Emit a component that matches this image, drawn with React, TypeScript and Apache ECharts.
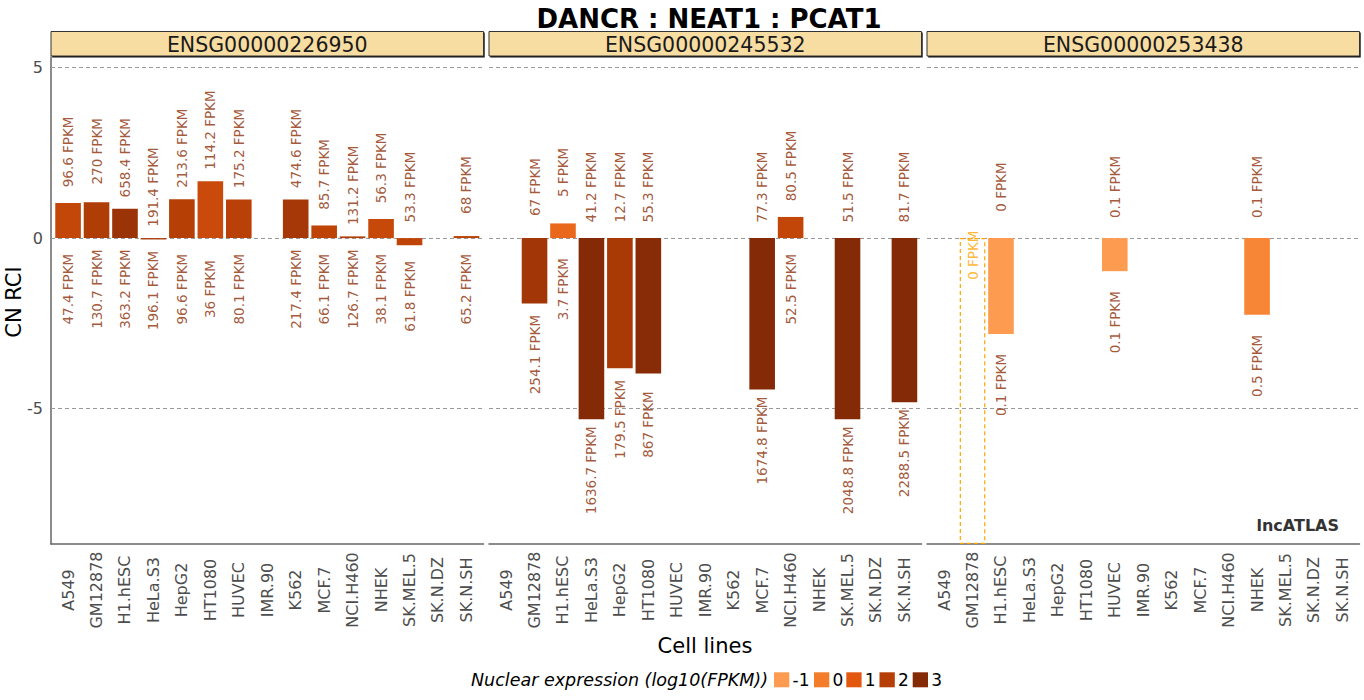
import { useEffect, useRef } from 'react';
import * as echarts from 'echarts';

// Cell lines shown on every panel's x axis
const cellLines = [
  'A549', 'GM12878', 'H1.hESC', 'HeLa.S3', 'HepG2', 'HT1080', 'HUVEC', 'IMR.90',
  'K562', 'MCF.7', 'NCI.H460', 'NHEK', 'SK.MEL.5', 'SK.N.DZ', 'SK.N.SH',
];

const geneIds = ['ENSG00000226950', 'ENSG00000245532', 'ENSG00000253438'];

// CN RCI, cytoplasmic FPKM (upper label) and nuclear FPKM (lower label); null = no data
const rciDANCR = [1.03, 1.05, 0.86, -0.04, 1.14, 1.67, 1.13, null, 1.13, 0.37, 0.05, 0.56, -0.21, null, 0.06];
const cytoDANCR = [96.6, 270, 658.4, 191.4, 213.6, 114.2, 175.2, null, 474.6, 85.7, 131.2, 56.3, 53.3, null, 68];
const nucDANCR = [47.4, 130.7, 363.2, 196.1, 96.6, 36, 80.1, null, 217.4, 66.1, 126.7, 38.1, 61.8, null, 65.2];

const rciNEAT1 = [null, -1.92, 0.43, -5.31, -3.82, -3.97, null, null, null, -4.44, 0.62, null, -5.31, null, -4.81];
const cytoNEAT1 = [null, 67, 5, 41.2, 12.7, 55.3, null, null, null, 77.3, 80.5, null, 51.5, null, 81.7];
const nucNEAT1 = [null, 254.1, 3.7, 1636.7, 179.5, 867, null, null, null, 1674.8, 52.5, null, 2048.8, null, 2288.5];

// GM12878 has 0 FPKM in both compartments: RCI undefined (drawn as dashed outline)
const rciPCAT1 = [null, null, -2.81, null, null, null, -0.97, null, null, null, null, -2.25, null, null, null];
const cytoPCAT1 = [null, 0, 0, null, null, null, 0.1, null, null, null, null, 0.1, null, null, null];
const nucPCAT1 = [null, 0, 0.1, null, null, null, 0.1, null, null, null, null, 0.5, null, null, null];

const panels = [
  { rci: rciDANCR, cyto: cytoDANCR, nuc: nucDANCR },
  { rci: rciNEAT1, cyto: cytoNEAT1, nuc: nucNEAT1 },
  { rci: rciPCAT1, cyto: cytoPCAT1, nuc: nucPCAT1 },
];

const yTicks = [-5, 0, 5];
const legendSteps = [-1, 0, 1, 2, 3];
const legendColors = ['#FD9C51', '#F47D2B', '#E1580E', '#B53F06', '#852A07'];

const FONT = 'DejaVu Sans';
const Y_MIN = -8.97;
const Y_MAX = 5.31;
const PANEL_TOP = 57;
const PANEL_H = 487;
const PANEL_W = 432.5;
const PANEL_STEP = 438;
const PANEL_LEFT0 = 51;
const SLOT = PANEL_W / 15.2;
const LABEL_COLOR = '#8C2D04';

export default function App() {
  const chartRef = useRef<HTMLDivElement>(null);

  useEffect(() => {
    document.body.style.margin = '0';
    if (!chartRef.current) return;
    const chart = echarts.init(chartRef.current, null, { renderer: 'svg' });

    const grids: any[] = [];
    const xAxes: any[] = [];
    const yAxes: any[] = [];
    const series: any[] = [];
    const barSeriesIdx: number[] = [];
    const graphics: any[] = [];

    const fpkmLabel = (pos: 'top' | 'bottom', color = LABEL_COLOR, distance = 51) => ({
      show: true,
      position: pos,
      distance,
      rotate: 90,
      align: 'center',
      verticalAlign: 'middle',
      formatter: '{b}',
      color,
      fontSize: 13.5,
      fontFamily: FONT,
    });

    panels.forEach((p, k) => {
      const left = PANEL_LEFT0 + k * PANEL_STEP;
      grids.push({ left, top: PANEL_TOP, width: PANEL_W, height: PANEL_H, outerBoundsMode: 'none' });
      xAxes.push({
        type: 'value',
        gridIndex: k,
        min: -0.6,
        max: 14.6,
        axisLine: { onZero: false, lineStyle: { color: '#666666', width: 1.5 } },
        axisTick: { show: false },
        splitLine: { show: false },
        axisLabel: {
          customValues: cellLines.map((_, i) => i),
          formatter: (v: number) => cellLines[Math.round(v)],
          rotate: 90,
          align: 'center',
          verticalAlign: 'middle',
          margin: 46,
          fontSize: 16,
          color: '#4D4D4D',
          fontFamily: FONT,
        },
      });
      yAxes.push({
        type: 'value',
        gridIndex: k,
        min: Y_MIN,
        max: Y_MAX,
        axisLine: { show: k === 0, onZero: false, lineStyle: { color: '#666666', width: 1.5 } },
        axisTick: { show: false },
        splitLine: { show: false },
        axisLabel: {
          show: k === 0,
          customValues: yTicks,
          fontSize: 16,
          color: '#4D4D4D',
          margin: 8,
          fontFamily: FONT,
        },
      });

      const bars: any[] = [];
      const topLabels: any[] = [];
      const bottomLabels: any[] = [];
      const naBars: any[] = [];
      const naLabels: any[] = [];
      p.rci.forEach((r, i) => {
        const c = p.cyto[i];
        const n = p.nuc[i];
        if (r != null && n != null && c != null) {
          bars.push([i, r, Math.log10(n)]);
          topLabels.push({ name: `${c} FPKM`, value: [i, Math.max(r, 0)] });
          bottomLabels.push({ name: `${n} FPKM`, value: [i, Math.min(r, 0)] });
        } else if (r == null && n != null) {
          naBars.push([i, Y_MIN]);
          naLabels.push({ name: `${n} FPKM`, value: [i, 0] });
        }
      });

      barSeriesIdx.push(series.length);
      series.push({
        type: 'bar',
        xAxisIndex: k,
        yAxisIndex: k,
        data: bars,
        barWidth: SLOT * 0.9,
        z: 2,
        markLine: {
          z: 1,
          silent: true,
          symbol: ['none', 'none'],
          label: { show: false },
          lineStyle: { type: [4, 3], color: '#9A9A9A', width: 1 },
          data: yTicks.map((t) => ({ yAxis: t })),
        },
      });
      if (naBars.length) {
        series.push({
          type: 'bar',
          xAxisIndex: k,
          yAxisIndex: k,
          data: naBars,
          barWidth: SLOT * 0.9,
          barGap: '-100%',
          itemStyle: {
            color: 'rgba(0,0,0,0)',
            borderColor: '#FFA500',
            borderType: [4, 3],
            borderWidth: 1.2,
          },
        });
        series.push({
          type: 'scatter',
          xAxisIndex: k,
          yAxisIndex: k,
          symbolSize: 0.1,
          itemStyle: { color: 'rgba(0,0,0,0)' },
          data: naLabels,
          label: fpkmLabel('bottom', '#FFA500', 17),
          z: 4,
        });
      }
      series.push({
        type: 'scatter',
        xAxisIndex: k,
        yAxisIndex: k,
        symbolSize: 0.1,
        itemStyle: { color: 'rgba(0,0,0,0)' },
        data: topLabels,
        label: fpkmLabel('top'),
        z: 4,
      });
      series.push({
        type: 'scatter',
        xAxisIndex: k,
        yAxisIndex: k,
        symbolSize: 0.1,
        itemStyle: { color: 'rgba(0,0,0,0)' },
        data: bottomLabels,
        label: fpkmLabel('bottom'),
        z: 4,
      });

      // facet strip
      graphics.push(
        { type: 'rect', shape: { x: left + 1.2, y: 32.5, width: PANEL_W, height: 25 }, style: { fill: '#111111' }, z: 10 },
        {
          type: 'rect',
          shape: { x: left, y: 31.5, width: PANEL_W, height: 24.5 },
          style: { fill: '#F8DDA2', stroke: '#333333', lineWidth: 1 },
          z: 11,
        },
        {
          type: 'text',
          x: left + PANEL_W / 2,
          y: 44.5,
          style: {
            text: geneIds[k],
            fill: '#1A1A1A',
            font: `20.5px "${FONT}"`,
            textAlign: 'center',
            textVerticalAlign: 'middle',
          },
          z: 12,
        },
      );
    });

    graphics.push(
      {
        type: 'text',
        x: 14,
        y: 302,
        rotation: Math.PI / 2,
        style: { text: 'CN RCI', fill: '#000000', font: `21px "${FONT}"`, textAlign: 'center', textVerticalAlign: 'middle' },
      },
      {
        type: 'text',
        x: 705,
        y: 646,
        style: { text: 'Cell lines', fill: '#000000', font: `21px "${FONT}"`, textAlign: 'center', textVerticalAlign: 'middle' },
      },
      {
        type: 'text',
        x: 1339,
        y: 525,
        style: { text: 'lncATLAS', fill: '#333333', font: `bold 16px "${FONT}"`, textAlign: 'right', textVerticalAlign: 'middle' },
      },
      {
        type: 'text',
        x: 768,
        y: 680,
        style: {
          text: 'Nuclear expression (log10(FPKM))',
          fill: '#000000',
          font: `italic 17.5px "${FONT}"`,
          textAlign: 'right',
          textVerticalAlign: 'middle',
        },
      },
    );
    const legendX = [774, 814, 846.3, 879.5, 912.7];
    legendSteps.forEach((s, i) => {
      graphics.push(
        { type: 'rect', shape: { x: legendX[i], y: 672.3, width: 15.3, height: 15 }, style: { fill: legendColors[i] } },
        {
          type: 'text',
          x: legendX[i] + 18.5,
          y: 680,
          style: { text: String(s), fill: '#000000', font: `17px "${FONT}"`, textAlign: 'left', textVerticalAlign: 'middle' },
        },
      );
    });

    chart.setOption({
      animation: false,
      title: {
        text: 'DANCR : NEAT1 : PCAT1',
        left: 704,
        top: 1,
        textAlign: 'center',
        textStyle: { fontFamily: FONT, fontSize: 26, fontWeight: 'bold', color: '#000000' },
      },
      grid: grids,
      xAxis: xAxes,
      yAxis: yAxes,
      visualMap: [
        {
          type: 'continuous',
          show: false,
          min: -1,
          max: 3,
          dimension: 2,
          seriesIndex: barSeriesIdx,
          inRange: { color: legendColors },
        },
      ],
      series,
      graphic: graphics,
    });

    return () => {
      chart.dispose();
    };
  }, []);

  return <div ref={chartRef} style={{ width: '1364px', height: '700px' }} />;
}
